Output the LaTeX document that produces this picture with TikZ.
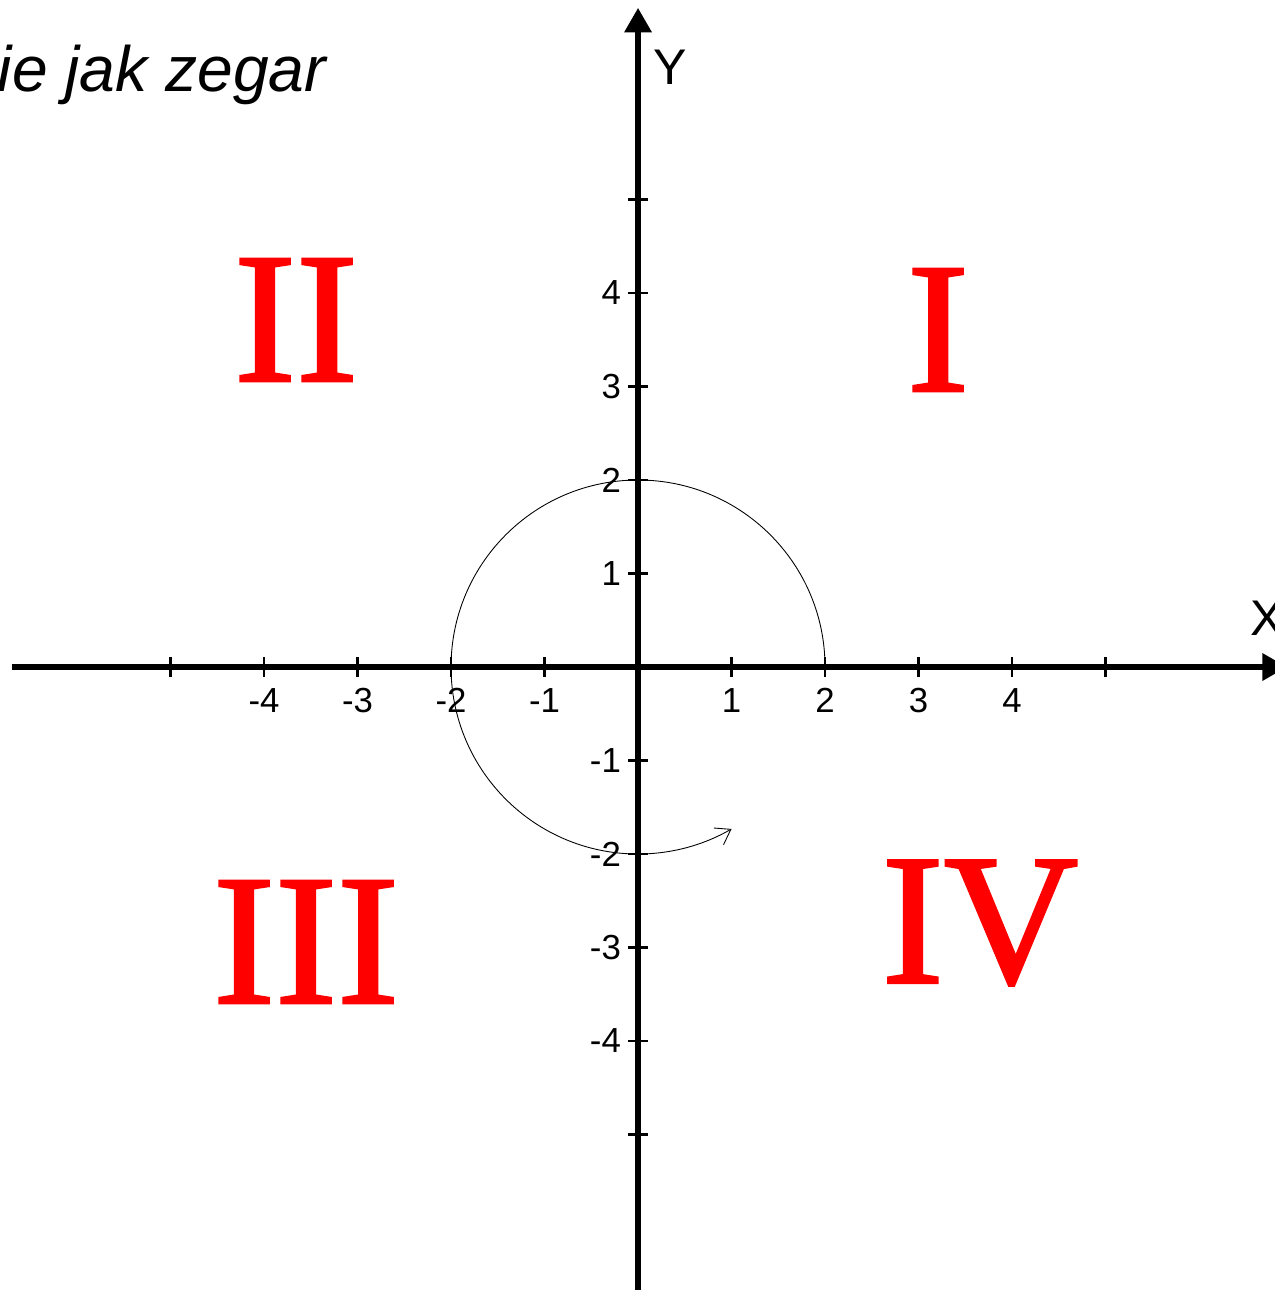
\documentclass[tikz,border=0pt]{standalone}
\usepackage{fontspec}
\setmainfont{Liberation Sans}
\newfontfamily\quadfont[FakeBold=1.5]{Liberation Serif}
\usetikzlibrary{arrows.meta}

\begin{document}
\begin{tikzpicture}[x=1.87cm, y=1.87cm,
  axis/.style={line width=3.2pt, -{Triangle[length=14pt, width=15pt]}},
  tickmark/.style={line width=1.3pt},
  num/.style={inner sep=0pt, font=\fontsize{19.8}{24}\selectfont},
  axlabel/.style={inner sep=0pt, font=\fontsize{28.5}{32}\selectfont},
  quad/.style={inner sep=0pt, text=red, font=\fontsize{106}{120}\quadfont},
  turn/.style={line width=0.5pt, -{Straight Barb[length=8pt, width=11pt]}}]

\useasboundingbox (-6.824,-6.663) rectangle (6.802,7.134);

% ---------- title (cut at the left edge) ----------
\node[anchor=base west, inner sep=0pt, font=\fontsize{36.5}{40}\selectfont\itshape] (title) at (-6.85,6.15) {ie jak zegar};

% ---------- ticks and numbers ----------
\foreach \k in {-5,-4,-3,-2,-1,1,2,3,4,5} {
  \draw[tickmark] (\k,-0.107) -- (\k,0.107);
  \draw[tickmark] (-0.107,\k) -- (0.107,\k);
}
\foreach \k in {-4,-3,-2,-1,1,2,3,4} {
  \node[num] (nx\k) at (\k,-0.355) {\k};
  \node[num, anchor=east] (ny\k) at (-0.18,\k) {\k};
}

% ---------- axes ----------
\coordinate (xmin) at (-6.70,0);
\coordinate (xmax) at (6.94,0);
\coordinate (ymin) at (0,-6.70);
\coordinate (ymax) at (0,7.05);
\draw[axis] (xmin) -- (xmax);
\draw[axis] (ymin) -- (ymax);
\node[axlabel] (xlab) at (6.727,0.524) {X};
\node[axlabel] (ylab) at (0.342,6.417) {Y};

% ---------- quadrants ----------
\node[quad] (q1) at (3.209,3.604) {I};
\node[quad] (q2) at (-3.658,3.711) {II};
\node[quad] (q3) at (-3.551,-2.941) {III};
\node[quad] (q4) at (3.658,-2.738) {IV};

% ---------- turning arrow ----------
\coordinate (start) at (2,0);
\draw[turn] (start) arc[start angle=0, end angle=300, radius=2];

\end{tikzpicture}
\end{document}
